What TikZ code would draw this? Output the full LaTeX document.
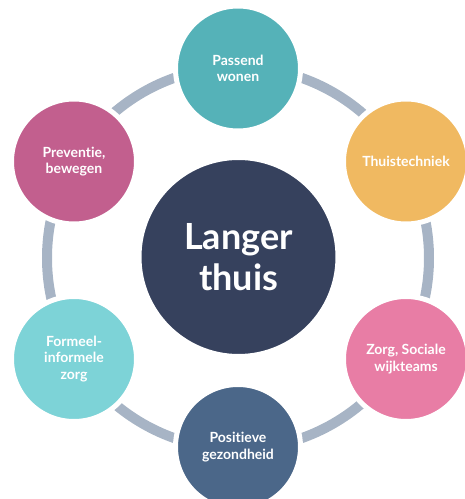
\documentclass[tikz,border=0pt]{standalone}
\usepackage{fontspec}
\setmainfont{Lato}[Ligatures=CommonOff]
\definecolor{ringc}{HTML}{A7B4C5}
\definecolor{cteal}{HTML}{55B2B8}
\definecolor{corange}{HTML}{F0B961}
\definecolor{cmagenta}{HTML}{C25F8E}
\definecolor{ccyan}{HTML}{7DD3D7}
\definecolor{cpink}{HTML}{E87DA5}
\definecolor{cslate}{HTML}{4B6789}
\definecolor{cnavy}{HTML}{36415D}
\begin{document}
\begin{tikzpicture}[x=1pt,y=-1pt,
  outer/.style={circle,draw=white,line width=5pt,minimum size=125pt,inner sep=0pt,
    text=white,align=center,font=\bfseries\fontsize{14pt}{16.5pt}\selectfont},
  hub/.style={circle,draw=white,line width=5pt,minimum size=199pt,inner sep=0pt,
    text=white,align=center,font=\bfseries\fontsize{36pt}{41pt}\selectfont},
  ring/.style={draw=ringc,line width=10pt}]
\useasboundingbox (0,0) rectangle (465,499);
\clip (0,0) rectangle (465,499);
\coordinate (o) at (238,258);
\draw[ring] (o) circle[radius=191pt];
\node[hub,fill=cnavy] (center) at (238.5,257) {Langer\\thuis};
\node[outer,fill=cteal] (top) at (238,68.5) {Passend\\wonen};
\node[outer,fill=corange] (tr) at (406,161.5) {Thuistechniek};
\node[outer,fill=cpink] (br) at (406,359) {Zorg, Sociale\\wijkteams};
\node[outer,fill=cslate] (bot) at (238,447) {Positieve\\gezondheid};
\node[outer,fill=ccyan] (bl) at (74,359) {Formeel-\\informele\\zorg};
\node[outer,fill=cmagenta] (tl) at (74,161.5) {Preventie,\\bewegen};
\end{tikzpicture}
\end{document}
